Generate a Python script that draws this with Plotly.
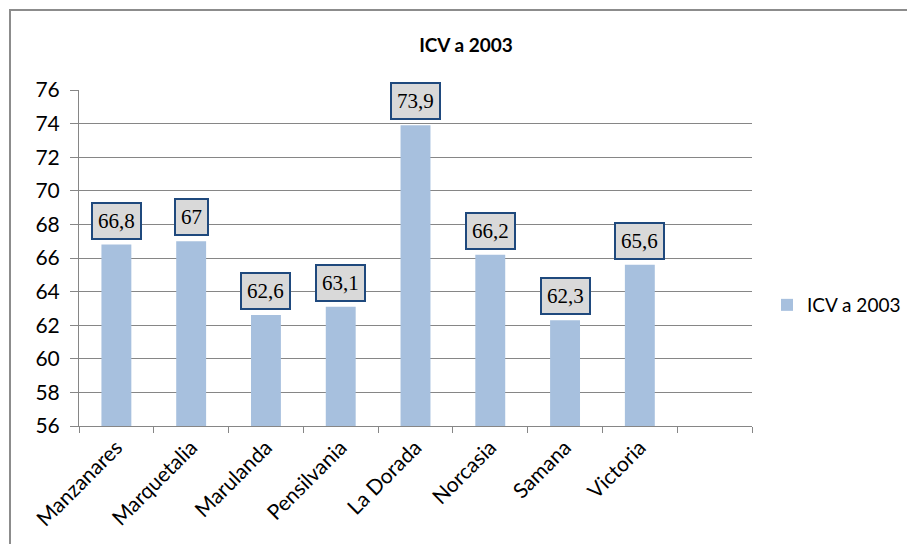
import plotly.graph_objects as go

categories = ["Manzanares", "Marquetalia", "Marulanda", "Pensilvania", "La Dorada",
              "Norcasia", "Samana", "Victoria", " "]
values = [66.8, 67, 62.6, 63.1, 73.9, 66.2, 62.3, 65.6, None]
labels = ["66,8", "67", "62,6", "63,1", "73,9", "66,2", "62,3", "65,6", ""]
series_name = "ICV a 2003"
y_ticks = list(range(56, 77, 2))

# page offset (body margin) compensation
OFF = 8
L, R, T, B = 79 - OFF, 752 - OFF, 90 - OFF, 426 - OFF
W, H = 915, 544
PW, PH = R - L, B - T

fig = go.Figure()
fig.add_trace(go.Bar(
    x=categories, y=values,
    name=series_name, marker=dict(color="#A7C0DE", line=dict(width=0)),
    width=0.4, showlegend=True,
))

for c, v, t in zip(categories, values, labels):
    if v is None:
        continue
    fig.add_annotation(
        x=c, y=v, text=t, showarrow=False, yanchor="bottom", yshift=5,
        font=dict(family="Liberation Serif, serif", size=21, color="#000"),
        bgcolor="#D9D9D9", bordercolor="#1F497D", borderwidth=2, borderpad=5,
    )

fig.add_shape(type="rect", xref="paper", yref="paper",
              x0=(10 - OFF - L) / PW, x1=1.5, y0=-0.7, y1=1 + (T - (10 - OFF)) / PH,
              line=dict(color="#8C8C8C", width=2), fillcolor="rgba(0,0,0,0)", layer="below")

fig.update_layout(
    width=W, height=H,
    margin=dict(l=L, r=W - R, t=T, b=H - B, autoexpand=False),
    paper_bgcolor="white", plot_bgcolor="white",
    title=dict(text="<b>ICV a 2003</b>", x=(466 - OFF) / W,
               xanchor="center", y=1 - (45 - OFF) / H, yanchor="middle",
               font=dict(family="Lato, sans-serif", size=19, color="#000")),
    font=dict(family="Lato, sans-serif", color="#000"),
    legend=dict(x=(767 - OFF - L) / PW, y=(426 - 305) / PH, xanchor="left", yanchor="middle",
                font=dict(family="Lato, sans-serif", size=19, color="#000"),
                itemwidth=30, bgcolor="rgba(0,0,0,0)"),
    xaxis=dict(
        automargin=False,
        showline=True, linecolor="#868686", linewidth=1,
        ticks="outside", tickson="boundaries", ticklen=6, tickcolor="#868686",
        tickangle=-45, tickfont=dict(family="Lato, sans-serif", size=21, color="#000"),
        showgrid=False,
    ),
    yaxis=dict(
        automargin=False,
        range=[56, 76], tickvals=y_ticks, ticks="outside", ticklen=8,
        tickcolor="#868686", ticklabelstandoff=6,
        showline=True, linecolor="#868686", linewidth=1,
        showgrid=True, gridcolor="#868686", gridwidth=1,
        tickfont=dict(family="Lato, sans-serif", size=21, color="#000"),
        zeroline=False,
    ),
)

fig.write_html("out.html")
